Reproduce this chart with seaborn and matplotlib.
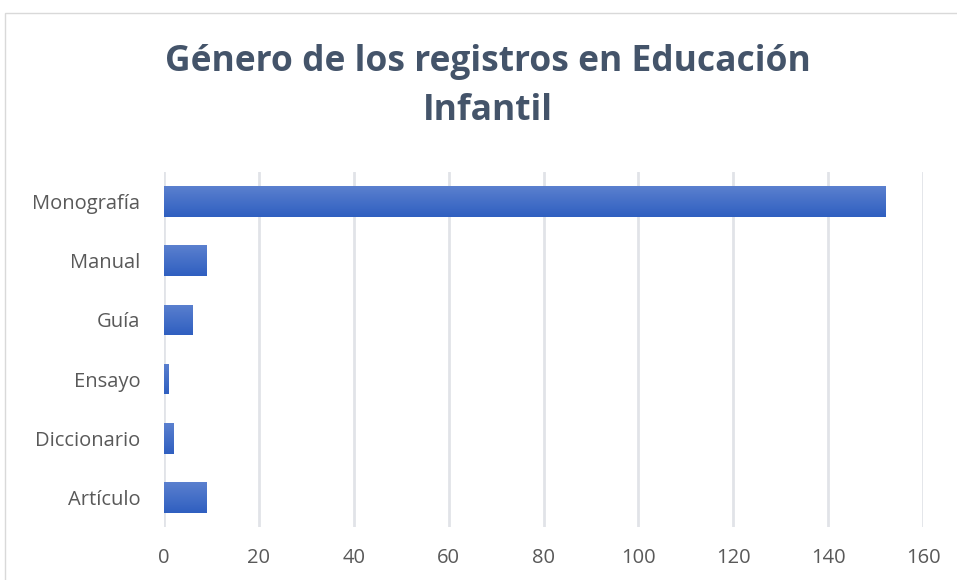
import matplotlib
matplotlib.use("Agg")
import matplotlib.pyplot as plt
import seaborn as sns
import numpy as np
import pandas as pd
from matplotlib.colors import LinearSegmentedColormap
from matplotlib.patches import Rectangle

categories = ["Monografía", "Manual", "Guía", "Ensayo", "Diccionario", "Artículo"]
values = [152, 9, 6, 1, 2, 9]
xticks = [0, 20, 40, 60, 80, 100, 120, 140, 160]

df = pd.DataFrame({"genero": categories, "n": values})

sns.set_theme(style="white")
plt.rcParams['font.family'] = ['Open Sans', 'DejaVu Sans']

W, H = 957, 580
fig = plt.figure(figsize=(W / 100, H / 100), dpi=100)
ax = fig.add_axes([164 / W, (H - 527) / H, (923 - 164) / W, (527 - 172) / H])

sns.barplot(data=df, x="n", y="genero", orient="h", ax=ax, color="#4472c4",
            width=0.52, saturation=1)

# gradient fill
cmap = LinearSegmentedColormap.from_list("g", ["#5b80cf", "#2f5fc0"])
grad = np.linspace(0, 1, 256).reshape(-1, 1)
for p in ax.patches:
    x0, y0 = p.get_x(), p.get_y()
    w, h = p.get_width(), p.get_height()
    p.set_facecolor("none")
    p.set_edgecolor("none")
    im = ax.imshow(grad, extent=[x0, x0 + w, y0 + h, y0], cmap=cmap, aspect="auto",
                   origin="upper", zorder=3)
    im.set_clip_path(p)

ax.set_xlim(0, 160)
ax.set_ylim(5.5, -0.5)
ax.set_xticks(xticks)
ax.set_xticklabels([str(t) for t in xticks])
ax.grid(axis="x", color="#e1e3e8", linewidth=2)
ax.set_axisbelow(True)
for s in ax.spines.values():
    s.set_visible(False)
ax.set_xlabel("")
ax.set_ylabel("")
ax.tick_params(axis="both", length=0, labelsize=14.5, colors="#595959")
ax.tick_params(axis="x", pad=15)
ax.tick_params(axis="y", pad=17)

fig.text(488 / W, 1 - 62 / H, "Género de los registros en Educación", ha="center", va="center",
         fontsize=25.5, fontweight="bold", color="#44546a")
fig.text(488 / W, 1 - 111 / H, "Infantil", ha="center", va="center",
         fontsize=25.5, fontweight="bold", color="#44546a")

fig.patches.append(Rectangle((5 / W, -0.1), 1.2, 1 - 13 / H + 0.1, transform=fig.transFigure,
                             fill=False, edgecolor="#d9d9d9", linewidth=1))

fig.savefig("out.png", dpi=100, facecolor="white")
